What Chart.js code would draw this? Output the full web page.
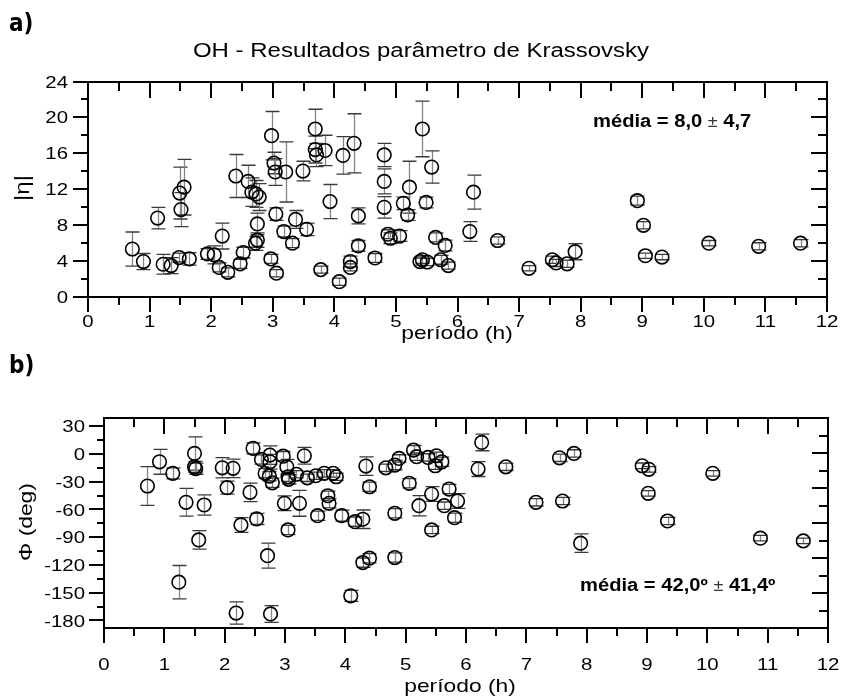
<!DOCTYPE html>
<html><head><meta charset="utf-8">
<script src="https://cdn.jsdelivr.net/npm/chart.js@4"></script>
<style>
html,body{margin:0;padding:0;background:#fff;width:843px;height:698px;overflow:hidden}
canvas{position:absolute;left:0}
#c1{top:0}
#c2{top:350px}
</style></head><body>
<canvas id="c1" width="843" height="350"></canvas>
<canvas id="c2" width="843" height="348"></canvas>
<script>
// ---------- data: panel a) |eta| ----------
const TOP_PERIOD = [0.72,0.90,1.13,1.22,1.35,1.48,1.51,1.49,1.56,1.645,1.94,2.05,2.18,2.13,2.27,2.40,2.47,2.52,2.60,2.66,2.73,2.78,2.75,2.72,2.75,2.98,3.02,3.04,3.21,3.05,2.97,3.06,3.18,3.32,3.37,3.55,3.49,3.69,3.69,3.71,3.85,3.93,4.14,3.78,4.08,4.32,4.26,4.26,4.39,4.39,4.66,4.81,4.81,4.81,4.87,4.91,5.06,5.12,5.22,5.19,5.43,5.58,5.49,5.39,5.43,5.51,5.645,5.80,5.73,5.85,6.26,6.20,6.65,7.16,7.54,7.60,7.78,7.91,8.92,9.02,9.05,9.32,10.08,10.89,11.57];
const TOP_ETA = [5.3,3.9,8.75,3.6,3.45,4.35,9.7,11.55,12.2,4.2,4.75,4.65,6.75,3.25,2.7,13.45,3.65,4.9,12.85,11.65,11.45,11.1,8.1,5.95,6.3,17.95,14.9,13.9,13.9,9.2,4.2,2.6,7.25,5.95,8.6,7.5,14.0,18.7,16.4,15.8,16.3,10.6,15.75,3.0,1.65,17.1,3.9,3.25,9.0,5.65,4.3,15.8,12.85,9.95,6.95,6.5,6.75,10.4,12.2,9.1,18.7,14.45,10.5,3.9,4.1,3.85,6.6,5.7,4.1,3.45,11.65,7.25,6.25,3.15,4.1,3.75,3.65,5.0,10.7,7.95,4.55,4.4,5.95,5.6,5.95];
const TOP_ETA_ERR = [1.9,0.9,1.2,1.1,0.9,0.5,1.9,2.9,3.1,0.7,0.6,1.0,1.45,0.5,0.5,2.4,0.5,0.6,1.8,1.6,1.5,1.5,1.2,0.8,0.8,2.7,1.2,1.5,3.35,0.7,0.5,0.4,0.6,0.5,1.0,0.7,1.1,2.2,1.5,1.3,1.7,1.9,2.1,0.4,0.4,3.3,0.6,0.4,0.9,0.6,0.5,1.3,1.4,1.2,0.5,0.6,0.6,0.7,2.9,0.6,3.1,1.8,0.6,0.4,0.4,0.4,0.5,0.6,0.5,0.4,1.9,1.1,0.4,0.3,0.4,0.4,0.4,0.9,0.5,0.4,0.3,0.3,0.3,0.4,0.4];

// ---------- data: panel b) phase ----------
const BOT_PERIOD = [0.72,0.92,1.14,1.24,1.36,1.50,1.50,1.52,1.66,1.57,1.96,2.14,2.04,2.19,2.27,2.42,2.47,2.53,2.61,2.67,2.71,2.75,2.75,2.74,2.79,2.76,2.99,2.97,3.03,3.05,3.06,3.05,3.19,3.24,3.32,3.37,3.51,3.54,3.65,3.71,3.73,3.80,3.85,3.94,4.09,4.16,4.29,4.29,4.40,4.34,4.40,4.67,4.82,4.89,4.82,4.82,5.06,5.13,5.18,5.22,5.37,5.43,5.51,5.49,5.60,5.43,5.64,5.72,5.86,5.81,6.26,6.20,6.66,7.16,7.55,7.60,7.79,7.90,8.92,9.03,9.02,9.34,10.09,10.88,11.59];
const BOT_PHI = [-34.7,-8.5,-21,-138.6,-52.3,0.5,-14,-16,-55.2,-93,-15,-15.6,-36.5,-172,-76.8,-41.5,6,-70.3,-6,-21,-110,-1.3,-8.5,-24,-31.2,-173,-53.4,-2.4,-13.9,-24.7,-27.5,-82.2,-22,-53.4,-2,-25.8,-23.6,-66.8,-21,-45.2,-53.4,-21,-24.7,-66.8,-153.4,-73.2,-70.6,-117.5,-112.7,-13.1,-35.5,-15,-12.1,-4.9,-64.2,-112,-31.8,4.1,-3,-56,-3.8,-43.4,-2,-12.8,-8.5,-82.2,-56,-38,-50.9,-68.9,12.4,-16.4,-13.9,-52.3,-4.2,-50.9,0.5,-96.5,-12.8,-16.7,-42.6,-72.5,-21,-91.1,-94];
const BOT_PHI_ERR = [21,13.5,6,18,15,18,6,6,11,10,11,10,7,12,8,10,6,6,5,5,13.5,10,8,5,5,9,8,5,8,5,5,5,4,14,9,4,4,5,4,5,5,4,4,6,6,5,10,5,5,10,5,4,5,4,5,5,5,5,4,11,4,8,4,4,5,4,4,5,8,5,9,8,4,4,4,4,4,10,3,3,3,4,3,3,3];

// ---------- axes / tick labels ----------
const X_TICKS = [0,1,2,3,4,5,6,7,8,9,10,11,12];
const X_MINOR = [0.5,1.5,2.5,3.5,4.5,5.5,6.5,7.5,8.5,9.5,10.5,11.5];
const ETA_TICKS = [0,4,8,12,16,20,24];
const ETA_MINOR = [2,6,10,14,18,22];
const PHI_TICKS = [30,0,-30,-60,-90,-120,-150,-180];
const PHI_MINOR = [15,-15,-45,-75,-105,-135,-165];

const FONT = '"Liberation Sans", Arial, Helvetica, sans-serif';
const SX = 1.2;

function sText(ctx, str, x, y, o) {
  o = o || {};
  ctx.save();
  ctx.font = o.font || ('17px ' + FONT);
  ctx.fillStyle = o.color || '#000';
  ctx.textAlign = o.align || 'left';
  ctx.textBaseline = o.baseline || 'alphabetic';
  ctx.translate(x, y);
  if (o.rotate) ctx.rotate(o.rotate);
  ctx.scale(o.sx || SX, 1);
  ctx.fillText(str, 0, 0);
  ctx.restore();
}
function partsText(ctx, parts, x, y, sx) {
  let cx = x;
  parts.forEach(p => {
    ctx.save(); ctx.font = p.font;
    const w = ctx.measureText(p.t).width * sx;
    ctx.restore();
    sText(ctx, p.t, cx, y, {font: p.font, sx: sx, color: p.color});
    cx += w;
  });
}

function decor(cfg) {
  return {
    id: 'decor',
    beforeDatasetsDraw(chart) {
      const ctx = chart.ctx, xs = chart.scales.x, ys = chart.scales.y;
      ctx.save();
      ctx.lineWidth = 1.3;
      cfg.px.forEach((p, i) => {
        const x = Math.round(xs.getPixelForValue(p)) + 0.5;
        const y1 = ys.getPixelForValue(cfg.py[i] - cfg.pe[i]);
        const y2 = ys.getPixelForValue(cfg.py[i] + cfg.pe[i]);
        ctx.strokeStyle = '#858585';
        ctx.beginPath(); ctx.moveTo(x, y1); ctx.lineTo(x, y2); ctx.stroke();
        ctx.strokeStyle = '#3a3a3a';
        ctx.beginPath();
        ctx.moveTo(x - 7, y1); ctx.lineTo(x + 7, y1);
        ctx.moveTo(x - 7, y2); ctx.lineTo(x + 7, y2);
        ctx.stroke();
      });
      ctx.restore();
    },
    afterDraw(chart) {
      const ctx = chart.ctx, a = chart.chartArea, xs = chart.scales.x, ys = chart.scales.y, rs = chart.scales[cfg.right];
      const L = Math.round(a.left), R = Math.round(a.right), T = Math.round(a.top), B = Math.round(a.bottom);
      const rx = v => Math.round(xs.getPixelForValue(v));
      const ry = (s, v) => Math.round(s.getPixelForValue(v));
      ctx.save();
      ctx.strokeStyle = '#000';
      ctx.lineWidth = 2;
      ctx.lineCap = 'butt';
      ctx.beginPath();
      ctx.rect(L, T, R - L, B - T);
      for (const v of X_TICKS) {
        const x = rx(v);
        ctx.moveTo(x, B); ctx.lineTo(x, B + 15);
        ctx.moveTo(x, T); ctx.lineTo(x, T + 16);
      }
      for (const v of X_MINOR) {
        const x = rx(v);
        ctx.moveTo(x, B); ctx.lineTo(x, B + 8);
        ctx.moveTo(x, T); ctx.lineTo(x, T + 9);
      }
      for (const v of cfg.yMajor) {
        const y = ry(ys, v);
        ctx.moveTo(L - 15, y); ctx.lineTo(L, y);
      }
      for (const v of cfg.yMinor) {
        const y = ry(ys, v);
        ctx.moveTo(L - 7, y); ctx.lineTo(L, y);
      }
      for (const v of ETA_TICKS) {
        const y = ry(rs, v);
        ctx.moveTo(R - 16, y); ctx.lineTo(R, y);
      }
      for (const v of ETA_MINOR) {
        const y = ry(rs, v);
        ctx.moveTo(R - 9, y); ctx.lineTo(R, y);
      }
      ctx.stroke();
      ctx.restore();
      // tick labels
      X_TICKS.forEach(v => sText(ctx, String(v), xs.getPixelForValue(v), cfg.xLabelY, {align: 'center'}));
      cfg.yMajor.forEach(v => sText(ctx, String(v), cfg.yLabelX, ys.getPixelForValue(v) + 6.1, {align: 'right'}));
      cfg.texts(ctx, a);
    }
  };
}

function makeChart(id, px, py, ycfg, pad, xh, dcfg) {
  return new Chart(document.getElementById(id), {
    type: 'scatter',
    data: { datasets: [{
      data: px.map((p, i) => ({x: p, y: py[i]})),
      pointRadius: 6.8, pointHoverRadius: 6.8, pointBorderWidth: 1.6,
      pointBorderColor: '#000', pointBackgroundColor: 'rgba(0,0,0,0)', showLine: false
    }]},
    options: {
      responsive: false, animation: false, devicePixelRatio: 1,
      layout: { padding: pad },
      plugins: { legend: {display: false}, tooltip: {enabled: false}, title: {display: false} },
      scales: Object.assign({
        x: { type: 'linear', min: 0, max: 12, grid: {display: false, drawTicks: false}, border: {display: false},
             ticks: {display: false}, afterFit(s) { s.height = xh; } },
        y: { type: 'linear', min: ycfg.min, max: ycfg.max, grid: {display: false, drawTicks: false}, border: {display: false},
             ticks: {display: false}, afterFit(s) { s.width = ycfg.w; } }
      }, ycfg.extra || {})
    },
    plugins: [decor(dcfg)]
  });
}

// Panel a)
makeChart('c1', TOP_PERIOD, TOP_ETA,
  {min: 0, max: 24, w: 88},
  {left: 0, right: 16, top: 81.5, bottom: 0}, 350 - 296.5,
  { px: TOP_PERIOD, py: TOP_ETA, pe: TOP_ETA_ERR, right: 'y', yMajor: ETA_TICKS, yMinor: ETA_MINOR,
    xLabelY: 326.8, yLabelX: 68,
    texts(ctx, a) {
      sText(ctx, 'a)', 9, 31, {font: 'bold 24px "Liberation Sans Narrow", "DejaVu Sans Condensed", sans-serif', sx: 1.0});
      sText(ctx, 'OH - Resultados parâmetro de Krassovsky', 421, 56.5, {font: '20px ' + FONT, align: 'center', sx: 1.2});
      sText(ctx, 'período (h)', 457, 339, {font: '19px ' + FONT, align: 'center'});
      sText(ctx, '|η|', 23, 188, {font: '20px ' + FONT, align: 'center', baseline: 'middle', rotate: -Math.PI / 2});
      partsText(ctx, [
        {t: 'média = 8,0 ', font: 'bold 18px ' + FONT},
        {t: '±', font: '16px ' + FONT, color: '#333'},
        {t: ' 4,7', font: 'bold 18px ' + FONT}
      ], 593, 126.5, 1.12);
    } });

// Panel b)
makeChart('c2', BOT_PERIOD, BOT_PHI,
  {min: -188.5, max: 38.5, w: 104, extra: {
    yR: { type: 'linear', position: 'right', display: false, min: 0, max: 24 } }},
  {left: 0, right: 15, top: 68.3, bottom: 0}, 348 - 278.3,
  { px: BOT_PERIOD, py: BOT_PHI, pe: BOT_PHI_ERR, right: 'yR', yMajor: PHI_TICKS, yMinor: PHI_MINOR,
    xLabelY: 320.3, yLabelX: 85,
    texts(ctx, a) {
      sText(ctx, 'b)', 9, 23, {font: 'bold 24px "Liberation Sans Narrow", "DejaVu Sans Condensed", sans-serif', sx: 1.0});
      sText(ctx, 'período (h)', 460, 342, {font: '19px ' + FONT, align: 'center'});
      sText(ctx, 'Φ (deg)', 27, 172, {font: '19px ' + FONT, align: 'center', baseline: 'middle', rotate: -Math.PI / 2});
      partsText(ctx, [
        {t: 'média = 42,0º ', font: 'bold 18px ' + FONT},
        {t: '±', font: '16px ' + FONT, color: '#333'},
        {t: ' 41,4º', font: 'bold 18px ' + FONT}
      ], 580, 241, 1.12);
    } });
</script>
</body></html>
